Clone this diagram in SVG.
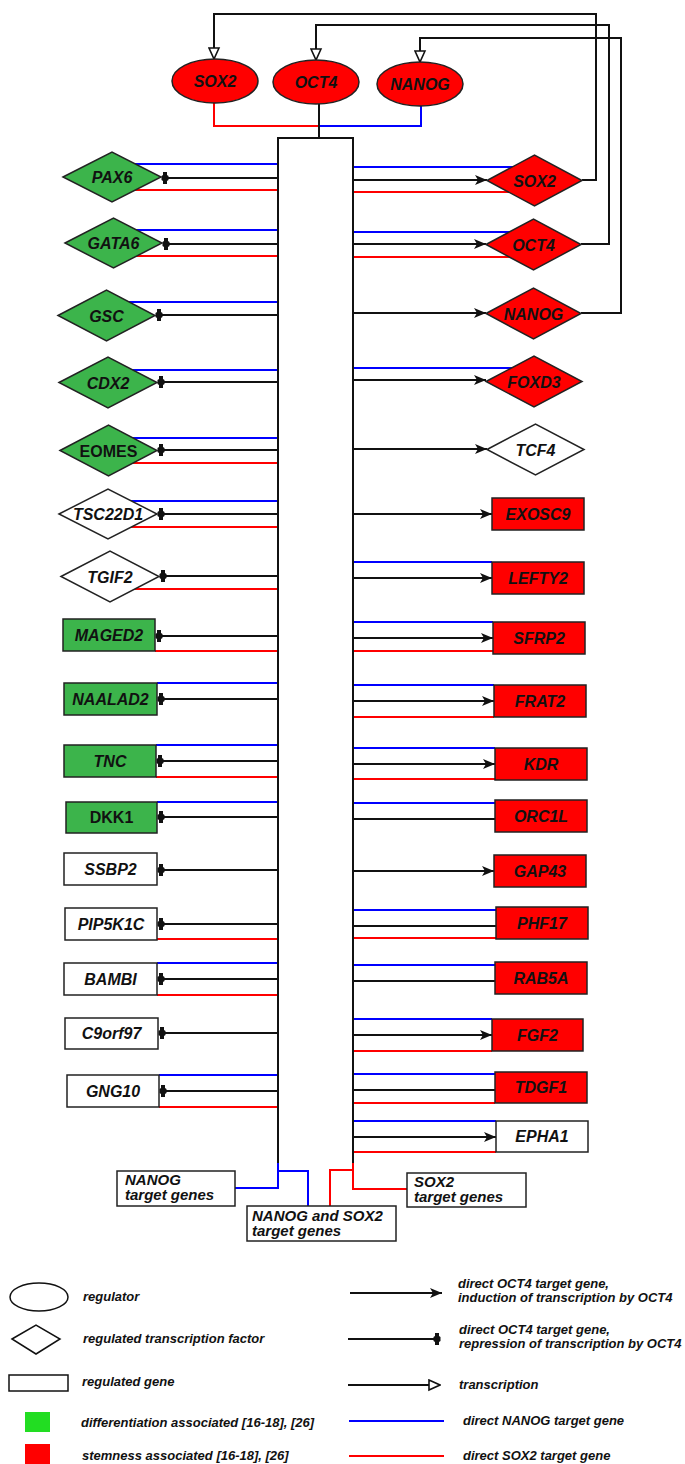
<svg xmlns="http://www.w3.org/2000/svg" width="685" height="1464" viewBox="0 0 685 1464">
<style>
text{font-family:"Liberation Sans",Arial,sans-serif;font-weight:bold;font-style:italic;fill:#111}
.lbl{font-size:16px;text-anchor:middle}
.up{font-style:normal}
.bx{font-size:15px}
.lg{font-size:13px}
.g{fill:#3cb44b;stroke:#222;stroke-width:1.5}
.r{fill:#ff0000;stroke:#222;stroke-width:1.5}
.w{fill:#fff;stroke:#222;stroke-width:1.5}
.k{stroke:#111;stroke-width:2;fill:none}
.b{stroke:#0000ff;stroke-width:2;fill:none}
.d{stroke:#ff0000;stroke-width:2;fill:none}
.ind{marker-end:url(#ah)}
.rep{marker-end:url(#bar)}
.tr{marker-end:url(#oh)}
</style>
<defs>
<marker id="ah" markerUnits="userSpaceOnUse" markerWidth="12" markerHeight="10" viewBox="0 0 12 10" refX="12" refY="5" orient="auto"><path d="M0,0 L12,5 L0,10 L3,5 z" fill="#111"/></marker>
<marker id="oh" markerUnits="userSpaceOnUse" markerWidth="13" markerHeight="13" viewBox="0 0 13 13" refX="12" refY="6.5" orient="auto"><path d="M1,1.5 L12,6.5 L1,11.5 z" fill="#fff" stroke="#111" stroke-width="1.6"/></marker>
<marker id="bar" markerUnits="userSpaceOnUse" markerWidth="10" markerHeight="14" viewBox="-5 -7 10 14" refX="0" refY="0" orient="auto"><path d="M-2,-6 L2,-6 L2,-3 L3.5,-2 L3.5,2 L2,3 L2,6 L-2,6 L-2,3 L-3.5,2 L-3.5,-2 L-2,-3 z" fill="#111"/></marker>
</defs>
<rect width="685" height="1464" fill="#fff"/>

<g id="connectors">
<!-- feedback loops -->
<path class="k tr" d="M582,180 H596 V14 H214 V59"/>
<path class="k tr" d="M581,244 H609 V25 H316 V60"/>
<path class="k tr" d="M581,313 H621 V38 H420 V62"/>
<!-- regulators to hub -->
<path class="d" d="M214,103 V126 H319"/>
<path class="b" d="M319,126 H421 V106"/>
<path class="k" d="M319,104 V138"/>
<!-- left side -->
<line class="b" x1="112" y1="164" x2="278" y2="164"/><line class="k rep" x1="278" y1="178" x2="165" y2="178"/><line class="d" x1="112" y1="190" x2="278" y2="190"/>
<line class="b" x1="113" y1="230" x2="278" y2="230"/><line class="k rep" x1="278" y1="244" x2="166" y2="244"/><line class="d" x1="113" y1="256" x2="278" y2="256"/>
<line class="b" x1="107" y1="302" x2="278" y2="302"/><line class="k rep" x1="278" y1="315" x2="159" y2="315"/>
<line class="b" x1="108" y1="370" x2="278" y2="370"/><line class="k rep" x1="278" y1="382" x2="161" y2="382"/>
<line class="b" x1="108" y1="438" x2="278" y2="438"/><line class="k rep" x1="278" y1="450" x2="161" y2="450"/><line class="d" x1="108" y1="463" x2="278" y2="463"/>
<line class="b" x1="108" y1="501" x2="278" y2="501"/><line class="k rep" x1="278" y1="514" x2="161" y2="514"/><line class="d" x1="108" y1="527" x2="278" y2="527"/>
<line class="k rep" x1="278" y1="576" x2="163" y2="576"/><line class="d" x1="110" y1="589" x2="278" y2="589"/>
<line class="k rep" x1="278" y1="636" x2="159" y2="636"/><line class="d" x1="155" y1="651" x2="278" y2="651"/>
<line class="b" x1="157" y1="683" x2="278" y2="683"/><line class="k rep" x1="278" y1="699" x2="161" y2="699"/>
<line class="b" x1="156" y1="745" x2="278" y2="745"/><line class="k rep" x1="278" y1="761" x2="160" y2="761"/><line class="d" x1="156" y1="777" x2="278" y2="777"/>
<line class="b" x1="157" y1="802" x2="278" y2="802"/><line class="k rep" x1="278" y1="817" x2="161" y2="817"/>
<line class="k rep" x1="278" y1="870" x2="161" y2="870"/>
<line class="k rep" x1="278" y1="924" x2="161" y2="924"/><line class="d" x1="157" y1="939" x2="278" y2="939"/>
<line class="b" x1="157" y1="963" x2="278" y2="963"/><line class="k rep" x1="278" y1="979" x2="161" y2="979"/><line class="d" x1="157" y1="995" x2="278" y2="995"/>
<line class="k rep" x1="278" y1="1033" x2="162" y2="1033"/>
<line class="b" x1="159" y1="1075" x2="278" y2="1075"/><line class="k rep" x1="278" y1="1091" x2="163" y2="1091"/><line class="d" x1="159" y1="1107" x2="278" y2="1107"/>
<!-- right side -->
<line class="b" x1="353" y1="167" x2="534" y2="167"/><line class="k ind" x1="353" y1="180" x2="487" y2="180"/><line class="d" x1="353" y1="192" x2="534" y2="192"/>
<line class="b" x1="353" y1="232" x2="533" y2="232"/><line class="k ind" x1="353" y1="244" x2="486" y2="244"/><line class="d" x1="353" y1="257" x2="533" y2="257"/>
<line class="k ind" x1="353" y1="313" x2="486" y2="313"/>
<line class="b" x1="353" y1="368" x2="534" y2="368"/><line class="k ind" x1="353" y1="380" x2="486" y2="380"/>
<line class="k ind" x1="353" y1="449" x2="487" y2="449"/>
<line class="k ind" x1="353" y1="514" x2="492" y2="514"/>
<line class="b" x1="353" y1="562" x2="492" y2="562"/><line class="k ind" x1="353" y1="578" x2="492" y2="578"/>
<line class="b" x1="353" y1="622" x2="493" y2="622"/><line class="k ind" x1="353" y1="638" x2="493" y2="638"/><line class="d" x1="353" y1="651" x2="493" y2="651"/>
<line class="b" x1="353" y1="685" x2="494" y2="685"/><line class="k ind" x1="353" y1="701" x2="494" y2="701"/><line class="d" x1="353" y1="717" x2="494" y2="717"/>
<line class="b" x1="353" y1="748" x2="495" y2="748"/><line class="k ind" x1="353" y1="764" x2="495" y2="764"/><line class="d" x1="353" y1="779" x2="495" y2="779"/>
<line class="b" x1="353" y1="803" x2="495" y2="803"/><line class="k" x1="353" y1="819" x2="495" y2="819"/>
<line class="k ind" x1="353" y1="871" x2="494" y2="871"/>
<line class="b" x1="353" y1="910" x2="496" y2="910"/><line class="k" x1="353" y1="926" x2="496" y2="926"/><line class="d" x1="353" y1="938" x2="496" y2="938"/>
<line class="b" x1="353" y1="965" x2="495" y2="965"/><line class="k" x1="353" y1="981" x2="495" y2="981"/>
<line class="b" x1="353" y1="1019" x2="492" y2="1019"/><line class="k ind" x1="353" y1="1035" x2="492" y2="1035"/><line class="d" x1="353" y1="1051" x2="492" y2="1051"/>
<line class="b" x1="353" y1="1074" x2="495" y2="1074"/><line class="k" x1="353" y1="1090" x2="495" y2="1090"/><line class="d" x1="353" y1="1103" x2="495" y2="1103"/>
<line class="b" x1="353" y1="1121" x2="496" y2="1121"/><line class="k ind" x1="353" y1="1137" x2="496" y2="1137"/><line class="d" x1="353" y1="1152" x2="496" y2="1152"/>
<!-- bottom target-gene groups -->
<path class="b" d="M278,1162 V1188 H235"/>
<path class="b" d="M278,1171 H308 V1206"/>
<path class="d" d="M353,1162 V1189 H407"/>
<path class="d" d="M353,1170 H330 V1206"/>
</g>

<g id="hub"><path d="M278,1163 V138 H353 V1163" fill="none" stroke="#111" stroke-width="2"/></g>

<g id="reg-SOX2"><ellipse class="r" cx="215" cy="81" rx="43" ry="22"/><text class="lbl" x="215" y="87">SOX2</text></g>
<g id="reg-OCT4"><ellipse class="r" cx="316" cy="82" rx="43" ry="22"/><text class="lbl" x="316" y="88">OCT4</text></g>
<g id="reg-NANOG"><ellipse class="r" cx="420" cy="84" rx="43" ry="22"/><text class="lbl" x="420" y="90">NANOG</text></g>

<g id="PAX6"><polygon class="g" points="63,177 112,152 161,177 112,202"/><text class="lbl" x="112" y="183">PAX6</text></g>
<g id="GATA6"><polygon class="g" points="65,243 113.5,218 162,243 113.5,268"/><text class="lbl" x="113.5" y="249">GATA6</text></g>
<g id="GSC"><polygon class="g" points="58,315.5 106.5,290 155,315.5 106.5,341"/><text class="lbl" x="106.5" y="321.5">GSC</text></g>
<g id="CDX2"><polygon class="g" points="59,382.5 108,357 157,382.5 108,408"/><text class="lbl" x="108" y="388.5">CDX2</text></g>
<g id="EOMES"><polygon class="g" points="60,450.5 108.5,425 157,450.5 108.5,476"/><text class="lbl up" x="108.5" y="456.5">EOMES</text></g>
<g id="TSC22D1"><polygon class="w" points="59,514 108,489 157,514 108,539"/><text class="lbl" x="108" y="520">TSC22D1</text></g>
<g id="TGIF2"><polygon class="w" points="61,576.5 110,551 159,576.5 110,602"/><text class="lbl" x="110" y="582.5">TGIF2</text></g>
<g id="MAGED2"><rect class="g" x="63" y="619" width="92" height="32"/><text class="lbl" x="109" y="641">MAGED2</text></g>
<g id="NAALAD2"><rect class="g" x="64" y="683" width="93" height="32"/><text class="lbl" x="110.5" y="705">NAALAD2</text></g>
<g id="TNC"><rect class="g" x="64" y="745" width="92" height="32"/><text class="lbl" x="110" y="767">TNC</text></g>
<g id="DKK1"><rect class="g" x="66" y="802" width="91" height="31"/><text class="lbl up" x="111.5" y="823">DKK1</text></g>
<g id="SSBP2"><rect class="w" x="64" y="853" width="93" height="32"/><text class="lbl" x="110.5" y="875">SSBP2</text></g>
<g id="PIP5K1C"><rect class="w" x="65" y="908" width="92" height="32"/><text class="lbl" x="111" y="930">PIP5K1C</text></g>
<g id="BAMBI"><rect class="w" x="64" y="963" width="93" height="32"/><text class="lbl" x="110.5" y="985">BAMBI</text></g>
<g id="C9orf97"><rect class="w" x="65" y="1018" width="93" height="31"/><text class="lbl" x="111.5" y="1039">C9orf97</text></g>
<g id="GNG10"><rect class="w" x="67" y="1075" width="92" height="32"/><text class="lbl" x="113" y="1097">GNG10</text></g>

<g id="SOX2"><polygon class="r" points="487,180.5 534.5,155 582,180.5 534.5,206"/><text class="lbl" x="534.5" y="186.5">SOX2</text></g>
<g id="OCT4"><polygon class="r" points="486,244.5 533.5,219 581,244.5 533.5,270"/><text class="lbl" x="533.5" y="250.5">OCT4</text></g>
<g id="NANOG"><polygon class="r" points="486,313.5 533.5,288 581,313.5 533.5,339"/><text class="lbl" x="533.5" y="319.5">NANOG</text></g>
<g id="FOXD3"><polygon class="r" points="486,381.5 534,356 582,381.5 534,407"/><text class="lbl" x="534" y="387.5">FOXD3</text></g>
<g id="TCF4"><polygon class="w" points="487,449.5 535.5,424 584,449.5 535.5,475"/><text class="lbl" x="535.5" y="455.5">TCF4</text></g>
<g id="EXOSC9"><rect class="r" x="492" y="498" width="92" height="32"/><text class="lbl" x="538" y="520">EXOSC9</text></g>
<g id="LEFTY2"><rect class="r" x="492" y="562" width="92" height="32"/><text class="lbl" x="538" y="584">LEFTY2</text></g>
<g id="SFRP2"><rect class="r" x="493" y="622" width="92" height="32"/><text class="lbl" x="539" y="644">SFRP2</text></g>
<g id="FRAT2"><rect class="r" x="494" y="685" width="92" height="32"/><text class="lbl" x="540" y="707">FRAT2</text></g>
<g id="KDR"><rect class="r" x="495" y="748" width="92" height="32"/><text class="lbl" x="541" y="770">KDR</text></g>
<g id="ORC1L"><rect class="r" x="495" y="800" width="92" height="32"/><text class="lbl" x="541" y="822">ORC1L</text></g>
<g id="GAP43"><rect class="r" x="494" y="855" width="92" height="32"/><text class="lbl" x="540" y="877">GAP43</text></g>
<g id="PHF17"><rect class="r" x="496" y="907" width="92" height="32"/><text class="lbl" x="542" y="929">PHF17</text></g>
<g id="RAB5A"><rect class="r" x="495" y="962" width="92" height="32"/><text class="lbl" x="541" y="984">RAB5A</text></g>
<g id="FGF2"><rect class="r" x="492" y="1019" width="91" height="32"/><text class="lbl" x="537.5" y="1041">FGF2</text></g>
<g id="TDGF1"><rect class="r" x="495" y="1072" width="92" height="31"/><text class="lbl" x="541" y="1093">TDGF1</text></g>
<g id="EPHA1"><rect class="w" x="496" y="1121" width="92" height="31"/><text class="lbl" x="542" y="1142">EPHA1</text></g>

<g id="nanog-targets"><rect class="w" x="117" y="1171" width="118" height="35"/><text class="bx" x="125" y="1185">NANOG</text><text class="bx" x="125" y="1200">target genes</text></g>
<g id="nanog-sox2-targets"><rect class="w" x="247" y="1206" width="149" height="35"/><text class="bx" x="252" y="1221">NANOG and SOX2</text><text class="bx" x="252" y="1236">target genes</text></g>
<g id="sox2-targets"><rect class="w" x="407" y="1173" width="119" height="34"/><text class="bx" x="414" y="1187">SOX2</text><text class="bx" x="414" y="1202">target genes</text></g>

<g id="legend">
<ellipse cx="39" cy="1297" rx="29" ry="14" fill="#fff" stroke="#111" stroke-width="1.5"/>
<text class="lg" x="83" y="1301">regulator</text>
<polygon points="12,1339 36,1325 60,1339 36,1354" fill="#fff" stroke="#111" stroke-width="1.5"/>
<text class="lg" x="83" y="1343">regulated transcription factor</text>
<rect x="9" y="1375" width="59" height="16" fill="#fff" stroke="#111" stroke-width="1.5"/>
<text class="lg" x="82" y="1386">regulated gene</text>
<rect x="25" y="1412" width="25" height="20" fill="#22dd22"/>
<text class="lg" x="81" y="1427">differentiation associated [16-18], [26]</text>
<rect x="25" y="1444" width="25" height="20" fill="#ff0000"/>
<text class="lg" x="82" y="1460">stemness associated [16-18], [26]</text>
<line class="k ind" x1="350" y1="1293" x2="442" y2="1293"/>
<text class="lg" x="458" y="1288">direct OCT4 target gene,</text>
<text class="lg" x="458" y="1302">induction of transcription by OCT4</text>
<line class="k rep" x1="348" y1="1339" x2="437" y2="1339"/>
<text class="lg" x="459" y="1334">direct OCT4 target gene,</text>
<text class="lg" x="459" y="1348">repression of transcription by OCT4</text>
<line class="k tr" x1="348" y1="1385" x2="440" y2="1385"/>
<text class="lg" x="459" y="1389">transcription</text>
<line class="b" x1="349" y1="1421" x2="444" y2="1421"/>
<text class="lg" x="463" y="1425">direct NANOG target gene</text>
<line class="d" x1="349" y1="1456" x2="444" y2="1456"/>
<text class="lg" x="463" y="1460">direct SOX2 target gene</text>
</g>
</svg>
